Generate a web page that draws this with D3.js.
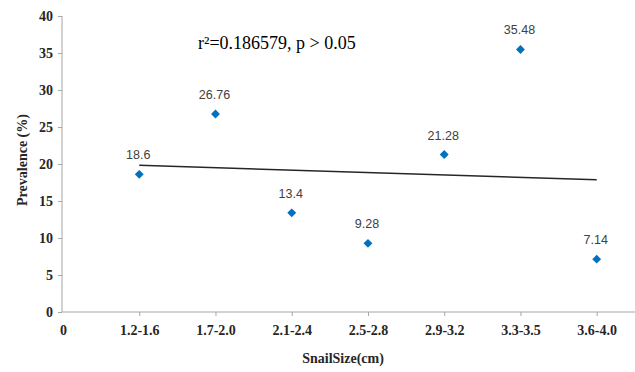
<!DOCTYPE html>
<html><head><meta charset="utf-8">
<script src="https://cdn.jsdelivr.net/npm/d3@7"></script>
<style>body{margin:0;background:#fff}svg{display:block}</style>
</head><body>
<svg id="c" width="635" height="372"></svg>
<script>
const categories = ["1.2-1.6","1.7-2.0","2.1-2.4","2.5-2.8","2.9-3.2","3.3-3.5","3.6-4.0"];
const prevalence = [18.6, 26.76, 13.4, 9.28, 21.28, 35.48, 7.14];
const pointLabels = ["18.6","26.76","13.4","9.28","21.28","35.48","7.14"];
const yTicks = [0,5,10,15,20,25,30,35,40];
const annotation = "r\u00B2=0.186579, p > 0.05";

const svg = d3.select("#c");
const x = d3.scaleLinear().domain([0, 7]).range([63, 596.7]);
const y = d3.scaleLinear().domain([0, 40]).range([312, 16]);
const serif = "'Liberation Serif','Times New Roman',serif";
const axisCol = "#a6a6a6";

// y axis
const ya = svg.append("g").attr("transform","translate(62,0)")
  .call(d3.axisLeft(y).tickValues(yTicks).tickSize(4).tickPadding(5));
ya.select(".domain").attr("stroke",axisCol).attr("d","M0,16V312");
ya.selectAll(".tick line").attr("stroke",axisCol);
ya.selectAll(".tick text").attr("font-family",serif).attr("font-weight","bold")
  .attr("font-size",14).attr("fill","#262626");

// x axis
const xa = svg.append("g").attr("transform","translate(0,312)")
  .call(d3.axisBottom(x).tickValues(d3.range(0,8)).tickSize(4).tickPadding(9)
    .tickFormat(i => i === 0 ? "0" : categories[i-1]));
xa.select(".domain").attr("stroke",axisCol).attr("d","M62,0H635");
xa.selectAll(".tick line").attr("stroke",axisCol).attr("display", d => d===0?"none":null);
xa.selectAll(".tick text").attr("font-family",serif).attr("font-weight","bold")
  .attr("font-size",14).attr("fill","#262626");

// trend line (least squares on data)
const xs = prevalence.map((_,i)=>i+1);
const mx = d3.mean(xs), my = d3.mean(prevalence);
const slope = d3.sum(xs.map((v,i)=>(v-mx)*(prevalence[i]-my))) / d3.sum(xs.map(v=>(v-mx)**2));
const icpt = my - slope*mx;
svg.append("path")
  .attr("d", d3.line()([[x(1), y(icpt+slope)], [x(7), y(icpt+slope*7)]]))
  .attr("stroke","#262626").attr("stroke-width",1.5).attr("fill","none");

// points
svg.append("g").selectAll("path").data(prevalence).join("path")
  .attr("transform",(d,i)=>`translate(${x(i+1)},${y(d)})`)
  .attr("d", d3.symbol().type(d3.symbolDiamond2).size(50)())
  .attr("fill","#0070c0");

// data labels
svg.append("g").selectAll("text").data(prevalence).join("text")
  .attr("x",(d,i)=>x(i+1)-1).attr("y",d=>y(d)-15)
  .attr("text-anchor","middle").attr("font-family","'Liberation Sans',Arial,sans-serif")
  .attr("font-size",12.5).attr("fill","#404040")
  .text((d,i)=>pointLabels[i]);

// annotation
svg.append("text").attr("x",198).attr("y",49)
  .attr("font-family",serif).attr("font-size",18).attr("fill","#000")
  .text(annotation);

// axis titles
svg.append("text").attr("x",343).attr("y",363).attr("text-anchor","middle")
  .attr("font-family",serif).attr("font-weight","bold").attr("font-size",14).attr("fill","#262626")
  .text("SnailSize(cm)");
svg.append("text").attr("transform","translate(27,160) rotate(-90)").attr("text-anchor","middle")
  .attr("font-family",serif).attr("font-weight","bold").attr("font-size",14).attr("fill","#262626")
  .text("Prevalence (%)");
</script>
</body></html>
